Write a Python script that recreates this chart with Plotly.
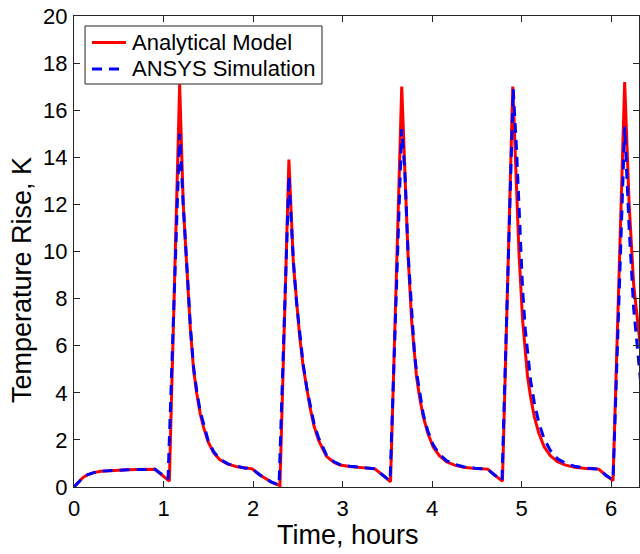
import plotly.graph_objects as go

# Analytical model (red, solid)
t_model = [0, 0.05, 0.10, 0.15, 0.22, 0.30, 0.40, 0.50, 0.60, 0.70, 0.80, 0.905, 1.065,
           1.18, 1.22, 1.26, 1.30, 1.335, 1.37, 1.41, 1.45, 1.50, 1.56, 1.63, 1.72, 1.82, 1.90, 1.99,
           2.08, 2.20, 2.30,
           2.40, 2.45, 2.486, 2.52, 2.56, 2.60, 2.635, 2.68, 2.73, 2.78, 2.82, 2.90, 2.97, 3.08, 3.19, 3.36,
           3.45, 3.535,
           3.66, 3.695, 3.73, 3.77, 3.80, 3.825, 3.86, 3.90, 3.95, 4.01, 4.08, 4.16, 4.25, 4.35, 4.48, 4.62,
           4.70, 4.785,
           4.90, 4.935, 4.97, 5.01, 5.04, 5.065, 5.10, 5.14, 5.19, 5.25, 5.32, 5.40, 5.49, 5.59, 5.72, 5.86,
           5.94, 6.02,
           6.15, 6.20, 6.25, 6.33]
v_model = [0, 0.22, 0.40, 0.52, 0.61, 0.67, 0.70, 0.72, 0.73, 0.74, 0.74, 0.75, 0.25,
           17.1, 12.0, 9.2, 6.7, 5.0, 4.0, 3.1, 2.5, 1.9, 1.45, 1.15, 0.97, 0.86, 0.81, 0.77,
           0.50, 0.22, 0.06,
           13.9, 9.5, 7.7, 6.4, 5.1, 4.1, 3.4, 2.6, 2.0, 1.6, 1.3, 1.05, 0.93, 0.87, 0.83, 0.77,
           0.50, 0.22,
           17.0, 13.2, 9.9, 7.1, 5.6, 4.7, 3.8, 3.0, 2.3, 1.71, 1.33, 1.07, 0.93, 0.84, 0.79, 0.76,
           0.50, 0.25,
           17.0, 13.2, 9.9, 7.1, 5.6, 4.7, 3.8, 3.0, 2.3, 1.71, 1.33, 1.07, 0.93, 0.84, 0.79, 0.76,
           0.50, 0.27,
           17.2, 12.0, 8.6, 5.8]

# ANSYS simulation (blue, dashed)
t_ansys = [0, 0.05, 0.10, 0.15, 0.22, 0.30, 0.40, 0.50, 0.60, 0.70, 0.80, 0.905, 1.05,
           1.18, 1.22, 1.26, 1.30, 1.335, 1.37, 1.41, 1.45, 1.50, 1.56, 1.63, 1.72, 1.82, 1.90, 1.99,
           2.08, 2.20, 2.29,
           2.40, 2.45, 2.486, 2.52, 2.56, 2.60, 2.635, 2.68, 2.73, 2.78, 2.82, 2.90, 2.97, 3.08, 3.19, 3.36,
           3.45, 3.53,
           3.66, 3.695, 3.73, 3.77, 3.80, 3.825, 3.86, 3.90, 3.95, 4.01, 4.08, 4.16, 4.25, 4.35, 4.48, 4.62,
           4.70, 4.78,
           4.905, 4.94, 4.975, 5.01, 5.04, 5.07, 5.10, 5.14, 5.19, 5.25, 5.32, 5.40, 5.49, 5.59, 5.72, 5.86,
           5.94, 6.02,
           6.15, 6.20, 6.25, 6.33]
v_ansys = [0, 0.22, 0.40, 0.52, 0.61, 0.67, 0.70, 0.72, 0.73, 0.74, 0.74, 0.75, 0.33,
           15.0, 12.0, 9.3, 6.8, 5.1, 4.1, 3.2, 2.6, 1.95, 1.5, 1.18, 0.98, 0.87, 0.81, 0.77,
           0.50, 0.22, 0.08,
           13.2, 9.6, 7.8, 6.5, 5.2, 4.2, 3.5, 2.7, 2.1, 1.65, 1.35, 1.08, 0.95, 0.88, 0.83, 0.77,
           0.50, 0.26,
           15.2, 13.4, 10.0, 7.3, 5.8, 4.9, 4.0, 3.1, 2.4, 1.8, 1.4, 1.12, 0.96, 0.86, 0.80, 0.76,
           0.50, 0.28,
           16.9, 14.5, 11.5, 8.4, 6.7, 5.6, 4.5, 3.6, 2.75, 2.05, 1.55, 1.2, 1.0, 0.88, 0.80, 0.76,
           0.50, 0.30,
           15.3, 11.0, 7.6, 4.4]

x_ticks = [0, 1, 2, 3, 4, 5, 6]
y_ticks = [0, 2, 4, 6, 8, 10, 12, 14, 16, 18, 20]

series_names = ["Analytical Model", "ANSYS Simulation"]
series_colors = ["#FF0000", "#0000FF"]
series_dashes = ["solid", "10px,7px"]

FONT = "Liberation Sans, Arial, sans-serif"
AXC = "#262626"

fig = go.Figure()
for t, v, name, col, dash in zip([t_model, t_ansys], [v_model, v_ansys],
                                 series_names, series_colors, series_dashes):
    fig.add_trace(go.Scatter(x=t, y=v, mode="lines", name=name,
                             line=dict(color=col, width=3, dash=dash)))

axis_common = dict(showgrid=False, zeroline=False, showline=True, linecolor=AXC, linewidth=1,
                   mirror="ticks", ticks="inside", ticklen=6, tickwidth=1, tickcolor=AXC,
                   tickfont=dict(family=FONT, size=22, color="black"))

fig.update_xaxes(range=[0, 6.31], tickvals=x_ticks, ticktext=[str(v) for v in x_ticks],
                 ticklabelstandoff=2, **axis_common)
fig.update_yaxes(range=[0, 20], tickvals=y_ticks, ticktext=[str(v) for v in y_ticks],
                 ticklabelstandoff=1, **axis_common)

# Axis titles
annotations = [
    dict(text="Time, hours", xref="paper", yref="paper", x=0.485, y=-0.102,
         xanchor="center", yanchor="middle", showarrow=False,
         font=dict(family=FONT, size=27, color="black")),
    dict(text="Temperature Rise, K", xref="paper", yref="paper", x=-0.092, y=0.4395,
         xanchor="center", yanchor="middle", showarrow=False, textangle=-90,
         font=dict(family=FONT, size=27, color="black")),
]

# Legend box (MATLAB style)
shapes = [dict(type="rect", xref="paper", yref="paper", x0=0.0195, x1=0.4389, y0=0.8556, y1=0.9788,
               fillcolor="white", line=dict(color=AXC, width=1), layer="above")]
legend_rows_y = [0.9439, 0.8875]
for name, col, dash, yy in zip(series_names, series_colors, series_dashes, legend_rows_y):
    shapes.append(dict(type="line", xref="paper", yref="paper", x0=0.0319, x1=0.0920, y0=yy, y1=yy,
                       line=dict(color=col, width=3, dash=dash), layer="above"))
    annotations.append(dict(text=name, xref="paper", yref="paper", x=0.0991, y=yy,
                            xanchor="left", yanchor="middle", showarrow=False,
                            font=dict(family=FONT, size=22, color="black")))

fig.update_layout(
    width=640, height=554,
    margin=dict(l=74, r=1, t=16, b=67),
    plot_bgcolor="white", paper_bgcolor="white",
    font=dict(family=FONT, color="black"),
    showlegend=False,
    shapes=shapes,
    annotations=annotations,
)

fig.write_html("out.html")
